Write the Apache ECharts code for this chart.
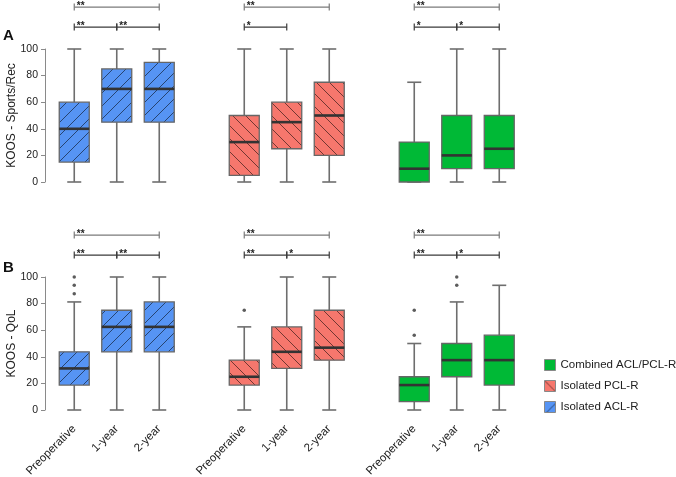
<!DOCTYPE html>
<html>
<head>
<meta charset="utf-8">
<script src="https://cdn.jsdelivr.net/npm/echarts@6/dist/echarts.min.js"></script>
<style>
html,body{margin:0;padding:0;background:#fff;}
#chart{width:676px;height:477px;}
</style>
</head>
<body>
<div id="chart"></div>
<script>
// ---------------- data ----------------
const timepoints = ['Preoperative', '1-year', '2-year'];
const groups = ['Isolated ACL-R', 'Isolated PCL-R', 'Combined ACL/PCL-R'];
const panelTitles = ['A', 'B'];
const yNames = ['KOOS - Sports/Rec', 'KOOS - QoL'];
const yTicks = [0, 20, 40, 60, 80, 100];

// [min, Q1, median, Q3, max] per timepoint
const sportsACL = [[0, 15, 40, 60, 100], [0, 45, 70, 85, 100], [0, 45, 70, 90, 100]];
const sportsPCL = [[0, 5, 30, 50, 100], [0, 25, 45, 60, 100], [0, 20, 50, 75, 100]];
const sportsCombined = [[0, 0, 10, 30, 75], [0, 10, 20, 50, 100], [0, 10, 25, 50, 100]];

const qolACL = [[0, 18.75, 31.25, 43.75, 81.25], [0, 43.75, 62.5, 75, 100], [0, 43.75, 62.5, 81.25, 100]];
const qolPCL = [[0, 18.75, 25, 37.5, 62.5], [0, 31.25, 43.75, 62.5, 100], [0, 37.5, 46.875, 75, 100]];
const qolCombined = [[0, 6.25, 18.75, 25, 50], [0, 25, 37.5, 50, 81.25], [0, 18.75, 37.5, 56.25, 93.75]];

// outliers per timepoint
const sportsOutACL = [[], [], []];
const sportsOutPCL = [[], [], []];
const sportsOutCombined = [[], [], []];
const qolOutACL = [[87.5, 93.75, 100], [], []];
const qolOutPCL = [[75], [], []];
const qolOutCombined = [[56.25, 75], [93.75, 100], []];

// significance: overall (preop vs 2-year), steps (preop vs 1y, 1y vs 2y)
const sportsSigOverall = ['**', '**', '**'];
const sportsSigSteps = [['**', '**'], ['*', ''], ['*', '*']];
const qolSigOverall = ['**', '**', '**'];
const qolSigSteps = [['**', '**'], ['**', '*'], ['**', '*']];

// ---------------- styling ----------------
const fills = ['#5694F4', '#F6776D', '#00B936'];
const hatchDir = ['/', '\\', null];

function makeFill(color, dir) {
  if (!dir) return color;
  const s = 13;
  const c = document.createElement('canvas');
  c.width = s; c.height = s;
  const ctx = c.getContext('2d');
  ctx.fillStyle = color;
  ctx.fillRect(0, 0, s, s);
  ctx.strokeStyle = 'rgba(0,0,0,0.6)';
  ctx.lineWidth = 0.9;
  ctx.beginPath();
  for (const k of [-s, 0, s]) {
    if (dir === '/') { ctx.moveTo(k, s); ctx.lineTo(k + s, 0); }
    else { ctx.moveTo(k, 0); ctx.lineTo(k + s, s); }
  }
  ctx.stroke();
  return { image: c, repeat: 'repeat' };
}
const patterns = fills.map((f, i) => makeFill(f, hatchDir[i]));

// category slots: 3 timepoints per group with one empty slot between groups
const slots = [];
groups.forEach((g, gi) => {
  timepoints.forEach(t => slots.push(t));
  if (gi < groups.length - 1) slots.push('');
});
const slotOf = (gi, k) => gi * (timepoints.length + 1) + k;

const chart = echarts.init(document.getElementById('chart'), null, { renderer: 'canvas' });

function boxSeries(stats, gi, panel) {
  return {
    type: 'custom',
    name: groups[gi],
    xAxisIndex: panel, yAxisIndex: panel,
    clip: false,
    silent: true,
    itemStyle: { color: patterns[gi] },
    encode: { x: 0, y: [1, 2, 3, 4, 5] },
    data: stats.map((s, k) => [slotOf(gi, k)].concat(s)),
    renderItem: function (params, api) {
      const x = api.value(0);
      const pMin = api.coord([x, api.value(1)]);
      const pQ1 = api.coord([x, api.value(2)]);
      const pMed = api.coord([x, api.value(3)]);
      const pQ3 = api.coord([x, api.value(4)]);
      const pMax = api.coord([x, api.value(5)]);
      const cx = pMin[0];
      const half = 15, cap = 7;
      const wStyle = { stroke: '#6e6e6e', lineWidth: 1.6 };
      return {
        type: 'group',
        children: [
          { type: 'line', shape: { x1: cx, y1: pMax[1], x2: cx, y2: pQ3[1] }, style: wStyle },
          { type: 'line', shape: { x1: cx, y1: pQ1[1], x2: cx, y2: pMin[1] }, style: wStyle },
          { type: 'line', shape: { x1: cx - cap, y1: pMax[1], x2: cx + cap, y2: pMax[1] }, style: wStyle },
          { type: 'line', shape: { x1: cx - cap, y1: pMin[1], x2: cx + cap, y2: pMin[1] }, style: wStyle },
          { type: 'rect', shape: { x: cx - half, y: pQ3[1], width: 2 * half, height: pQ1[1] - pQ3[1] },
            style: { fill: patterns[gi], stroke: '#666', lineWidth: 1.3 } },
          { type: 'line', shape: { x1: cx - half, y1: pMed[1], x2: cx + half, y2: pMed[1] },
            style: { stroke: '#333', lineWidth: 2.6 } }
        ]
      };
    }
  };
}

function outlierSeries(outs, gi, panel) {
  const d = [];
  outs.forEach((arr, k) => arr.forEach(v => d.push([slotOf(gi, k), v])));
  return {
    type: 'scatter', name: 'out' + panel + gi, xAxisIndex: panel, yAxisIndex: panel,
    symbolSize: 3.5, itemStyle: { color: '#333' }, silent: true, data: d
  };
}

function bracketSeries(overall, steps, panel) {
  const d = [];
  groups.forEach((g, gi) => {
    d.push([slotOf(gi, 0), slotOf(gi, 2), 0, overall[gi]]);
    steps[gi].forEach((lab, k) => { if (lab) d.push([slotOf(gi, k), slotOf(gi, k + 1), 1, lab]); });
  });
  return {
    type: 'custom', name: 'sig' + panel, xAxisIndex: panel, yAxisIndex: panel,
    clip: false, silent: true, data: d,
    renderItem: function (params, api) {
      const level = api.value(2) === 0 ? 131.5 : 116.5;
      const p1 = api.coord([api.value(0), level]);
      const p2 = api.coord([api.value(1), level]);
      const col = api.value(2) === 0 ? '#7a7a7a' : '#3a3a3a';
      const st = { stroke: col, lineWidth: 1.2 };
      return {
        type: 'group',
        children: [
          { type: 'line', shape: { x1: p1[0], y1: p1[1], x2: p2[0], y2: p2[1] }, style: st },
          { type: 'line', shape: { x1: p1[0], y1: p1[1] - 3.5, x2: p1[0], y2: p1[1] + 3.5 }, style: st },
          { type: 'line', shape: { x1: p2[0], y1: p2[1] - 3.5, x2: p2[0], y2: p2[1] + 3.5 }, style: st },
          { type: 'text', style: { text: api.value(3), x: p1[0] + 2.5, y: p1[1] - 0.5,
              fill: '#222', font: 'bold 10px "Liberation Sans", Arial, sans-serif', verticalAlign: 'middle', align: 'left' } }
        ]
      };
    }
  };
}

const font = '"Liberation Sans", Arial, sans-serif';
const gridTops = [49, 277];
const gridH = 133;

const yAxes = [0, 1].map(p => ({
  type: 'value', gridIndex: p, min: yTicks[0], max: yTicks[yTicks.length - 1], interval: yTicks[1] - yTicks[0],
  offset: 8,
  name: yNames[p], nameLocation: 'middle', nameGap: 27, nameMoveOverlap: false,
  nameTextStyle: { fontSize: 12, color: '#222', fontFamily: font },
  axisLine: { show: true, lineStyle: { color: '#8a8a8a', width: 1 } },
  axisTick: { show: true, length: 4, lineStyle: { color: '#8a8a8a' } },
  axisLabel: { fontSize: 10.5, color: '#222', margin: 7, fontFamily: font },
  splitLine: { show: false }
}));

const xAxes = [0, 1].map(p => ({
  type: 'category', gridIndex: p, data: slots, boundaryGap: true,
  axisLine: { show: false }, axisTick: { show: false },
  axisLabel: p === 1 ? { show: true, interval: 0, rotate: 45, fontSize: 11.5, color: '#222', margin: 17, fontFamily: font } : { show: false },
  splitLine: { show: false }
}));

const series = [
  boxSeries(sportsACL, 0, 0), boxSeries(sportsPCL, 1, 0), boxSeries(sportsCombined, 2, 0),
  boxSeries(qolACL, 0, 1), boxSeries(qolPCL, 1, 1), boxSeries(qolCombined, 2, 1),
  outlierSeries(sportsOutACL, 0, 0), outlierSeries(sportsOutPCL, 1, 0), outlierSeries(sportsOutCombined, 2, 0),
  outlierSeries(qolOutACL, 0, 1), outlierSeries(qolOutPCL, 1, 1), outlierSeries(qolOutCombined, 2, 1),
  bracketSeries(sportsSigOverall, sportsSigSteps, 0),
  bracketSeries(qolSigOverall, qolSigSteps, 1)
];

const legendOrder = [2, 1, 0];

chart.setOption({
  animation: false,
  backgroundColor: '#fff',
  title: panelTitles.map((t, i) => ({
    text: t, left: 3, top: i === 0 ? 28 : 260, padding: 0,
    textStyle: { fontSize: 15, fontWeight: 'bold', color: '#111', fontFamily: font }
  })),
  grid: gridTops.map(t => ({ left: 53, width: 467.5, top: t, height: gridH, containLabel: false, outerBoundsMode: 'none' })),
  xAxis: xAxes,
  yAxis: yAxes,
  legend: {
    orient: 'vertical', left: 544, top: 359, padding: 0, itemWidth: 11, itemHeight: 11, itemGap: 9,
    textStyle: { fontSize: 11.5, color: '#222', fontFamily: font },
    data: legendOrder.map(gi => ({
      name: groups[gi], icon: 'rect',
      itemStyle: { color: patterns[gi], borderColor: '#888', borderWidth: 1 }
    })),
    selectedMode: false
  },
  series: series
});
</script>
</body>
</html>
